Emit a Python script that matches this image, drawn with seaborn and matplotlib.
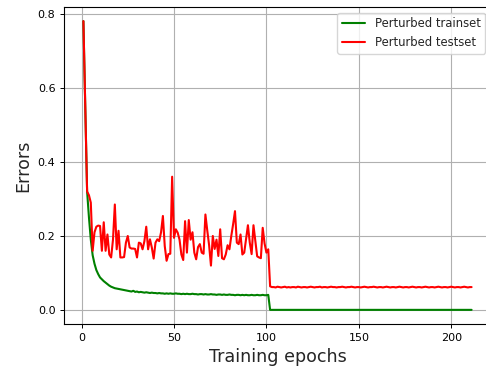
import numpy as np
import pandas as pd
import matplotlib
matplotlib.use("Agg")
import matplotlib.pyplot as plt
import seaborn as sns

# ---- data ----
epochs = list(range(1, 212))

train_early = [
    0.78, 0.55, 0.32, 0.25, 0.19, 0.148, 0.125, 0.108, 0.097, 0.088,
    0.083, 0.078, 0.074, 0.070, 0.066, 0.063, 0.061, 0.059, 0.058, 0.057,
    0.056, 0.055, 0.054, 0.053, 0.052, 0.051, 0.050, 0.052, 0.049, 0.050,
    0.048, 0.049, 0.048, 0.047, 0.048, 0.047, 0.046, 0.047, 0.046, 0.046,
    0.045, 0.046, 0.045, 0.045, 0.044, 0.045, 0.044, 0.045, 0.044, 0.044,
    0.045, 0.044, 0.044, 0.043, 0.044, 0.043, 0.044, 0.043, 0.043, 0.044,
    0.043, 0.043, 0.042, 0.043, 0.043, 0.042, 0.043, 0.042, 0.042, 0.043,
    0.042, 0.042, 0.041, 0.042, 0.042, 0.041, 0.042, 0.041, 0.041, 0.042,
    0.041, 0.041, 0.040, 0.041, 0.041, 0.040, 0.041, 0.040, 0.041, 0.040,
    0.040, 0.041, 0.040, 0.040, 0.041, 0.040, 0.040, 0.041, 0.040, 0.040,
    0.041,
]
train_late = [
    0.0005, 0.0005, 0.0005, 0.0005, 0.0005, 0.0005, 0.0005, 0.0005, 0.0005, 0.0005,
    0.0005, 0.0005, 0.0005, 0.0005, 0.0005, 0.0005, 0.0005, 0.0005, 0.0005, 0.0005,
    0.0005, 0.0005, 0.0005, 0.0005, 0.0005, 0.0005, 0.0005, 0.0005, 0.0005, 0.0005,
    0.0005, 0.0005, 0.0005, 0.0005, 0.0005, 0.0005, 0.0005, 0.0005, 0.0005, 0.0005,
    0.0005, 0.0005, 0.0005, 0.0005, 0.0005, 0.0005, 0.0005, 0.0005, 0.0005, 0.0005,
    0.0005, 0.0005, 0.0005, 0.0005, 0.0005, 0.0005, 0.0005, 0.0005, 0.0005, 0.0005,
    0.0005, 0.0005, 0.0005, 0.0005, 0.0005, 0.0005, 0.0005, 0.0005, 0.0005, 0.0005,
    0.0005, 0.0005, 0.0005, 0.0005, 0.0005, 0.0005, 0.0005, 0.0005, 0.0005, 0.0005,
    0.0005, 0.0005, 0.0005, 0.0005, 0.0005, 0.0005, 0.0005, 0.0005, 0.0005, 0.0005,
    0.0005, 0.0005, 0.0005, 0.0005, 0.0005, 0.0005, 0.0005, 0.0005, 0.0005, 0.0005,
    0.0005, 0.0005, 0.0005, 0.0005, 0.0005, 0.0005, 0.0005, 0.0005, 0.0005, 0.0005,
]

test_early = [
    0.78, 0.55, 0.32, 0.31, 0.29, 0.160, 0.210, 0.225, 0.228, 0.227,
    0.160, 0.237, 0.160, 0.204, 0.150, 0.142, 0.190, 0.285, 0.164, 0.214,
    0.142, 0.142, 0.143, 0.182, 0.200, 0.169, 0.166, 0.166, 0.165, 0.142,
    0.182, 0.180, 0.164, 0.186, 0.225, 0.164, 0.191, 0.169, 0.139, 0.182,
    0.191, 0.186, 0.210, 0.254, 0.173, 0.133, 0.151, 0.152, 0.360, 0.195,
    0.218, 0.209, 0.190, 0.150, 0.135, 0.240, 0.155, 0.243, 0.190, 0.210,
    0.155, 0.137, 0.170, 0.178, 0.155, 0.152, 0.258, 0.215, 0.175, 0.120,
    0.200, 0.165, 0.190, 0.146, 0.218, 0.140, 0.137, 0.150, 0.175, 0.164,
    0.200, 0.232, 0.267, 0.182, 0.178, 0.204, 0.150, 0.155, 0.191, 0.229,
    0.182, 0.151, 0.229, 0.186, 0.145, 0.142, 0.140, 0.222, 0.180, 0.155,
    0.164,
]
test_late = [
    0.064, 0.062, 0.062, 0.061, 0.063, 0.062, 0.061, 0.062, 0.063, 0.061,
    0.062, 0.061, 0.062, 0.062, 0.061, 0.063, 0.062, 0.061, 0.062, 0.062,
    0.061, 0.062, 0.063, 0.062, 0.061, 0.062, 0.062, 0.063, 0.061, 0.062,
    0.062, 0.061, 0.062, 0.063, 0.062, 0.062, 0.061, 0.062, 0.062, 0.063,
    0.062, 0.061, 0.062, 0.062, 0.063, 0.062, 0.061, 0.062, 0.062, 0.061,
    0.062, 0.063, 0.062, 0.061, 0.062, 0.062, 0.063, 0.062, 0.061, 0.062,
    0.062, 0.061, 0.062, 0.063, 0.062, 0.061, 0.062, 0.062, 0.061, 0.062,
    0.063, 0.062, 0.061, 0.062, 0.062, 0.061, 0.062, 0.063, 0.062, 0.061,
    0.062, 0.062, 0.061, 0.062, 0.063, 0.062, 0.061, 0.062, 0.062, 0.061,
    0.062, 0.063, 0.062, 0.061, 0.062, 0.062, 0.061, 0.062, 0.063, 0.062,
    0.061, 0.062, 0.062, 0.061, 0.062, 0.063, 0.062, 0.061, 0.062, 0.062,
]

train_label = "Perturbed trainset"
test_label = "Perturbed testset"
x_label = "Training epochs"
y_label = "Errors"
x_ticks = [0, 50, 100, 150, 200]
y_ticks = [0.0, 0.2, 0.4, 0.6, 0.8]

train_vals = train_early + train_late
test_vals = test_early + test_late

df_train = pd.DataFrame({"epoch": epochs, "error": train_vals})
df_test = pd.DataFrame({"epoch": epochs, "error": test_vals})

# ---- style ----
sns.set_theme(style="ticks")
plt.rcParams["font.family"] = ["DejaVu Sans"]
plt.rcParams.update({
    "axes.grid": True,
    "grid.color": "#b0b0b0",
    "grid.linewidth": 0.8,
    "axes.edgecolor": "black",
    "axes.linewidth": 0.8,
    "xtick.major.size": 2.7,
    "ytick.major.size": 2.7,
    "xtick.major.width": 0.7,
    "ytick.major.width": 0.7,
    "xtick.color": "black",
    "ytick.color": "black",
})

fig = plt.figure(figsize=(4.86, 3.75), dpi=100)
ax = fig.add_axes([64 / 486, 1 - 324.3 / 375, (491 - 64) / 486, (324.3 - 6.7) / 375])

sns.lineplot(data=df_train, x="epoch", y="error", color="green", linewidth=1.5,
             label=train_label, ax=ax, estimator=None)
sns.lineplot(data=df_test, x="epoch", y="error", color="red", linewidth=1.5,
             label=test_label, ax=ax, estimator=None)

ax.set_xticks(x_ticks)
ax.set_yticks(y_ticks)
ax.tick_params(labelsize=8)
ax.set_xlabel(x_label, fontsize=12.6)
ax.set_ylabel(y_label, fontsize=12.6)
ax.grid(True, color="#b0b0b0", linewidth=0.8)
ax.legend(loc="upper right", fontsize=8.4, frameon=True, fancybox=True,
          framealpha=0.8, edgecolor="#cccccc")

fig.savefig("out.png", dpi=100)
